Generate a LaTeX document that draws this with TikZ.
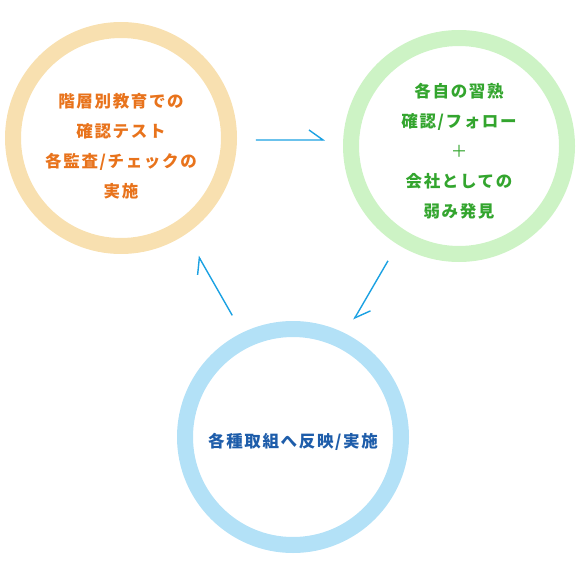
\documentclass[tikz,border=0pt]{standalone}
\usepackage{fontspec}
\usepackage{xcolor}
\usepackage{tikz}
\usetikzlibrary{arrows.meta,calc}
\newfontfamily\jpfont[LetterSpace=10]{Noto Sans CJK JP}
\definecolor{cyorange}{HTML}{E8731C}
\definecolor{cyorangering}{HTML}{F8E0B0}
\definecolor{cygreen}{HTML}{33A52E}
\definecolor{cygreenring}{HTML}{CDF3C5}
\definecolor{cyblue}{HTML}{1E5DAA}
\definecolor{cybluering}{HTML}{B3E1F7}
\definecolor{cyarrow}{HTML}{1BA1E2}
\tikzset{
  ring/.style={circle,draw,line width=16pt,minimum size=216pt,inner sep=0pt},
  txt/.style={align=center,font=\jpfont\bfseries\fontsize{16.5pt}{30pt}\selectfont},
  flow/.style={-{Straight Barb[left,length=14pt,width=20pt]},draw=cyarrow,line width=1.4pt},
}
\begin{document}
\begin{tikzpicture}[x=1pt,y=-1pt]
  \useasboundingbox (0,0) rectangle (580,580);
  % the three rings
  \node[ring,draw=cyorangering] (check) at (121,138) {};
  \node[ring,draw=cygreenring] (follow) at (459,146) {};
  \node[ring,draw=cybluering] (apply) at (293,437) {};
  % texts
  \node[txt,text=cyorange] (checktxt) at ([yshift=-8pt]check.center)
    {階層別教育での\\確認テスト\\各監査/チェックの\\実施};
  \node[txt,text=cygreen] (followtxt) at ([yshift=-5pt]follow.center)
    {各自の習熟\\確認/フォロー\\{\mdseries ＋}\\会社としての\\弱み発見};
  \node[txt,text=cyblue] (applytxt) at ([yshift=-5pt]apply.center)
    {各種取組へ反映/実施};
  % cycle
  \draw[flow,shorten <=19pt,shorten >=18pt] (check.-1) -- (follow.177);
  \draw[flow,shorten <=19pt,shorten >=16pt] (follow.-122.3) -- (apply.63);
  \draw[flow,shorten <=20pt,shorten >=25pt] (apply.116.6) -- (check.-56.5);
\end{tikzpicture}
\end{document}
